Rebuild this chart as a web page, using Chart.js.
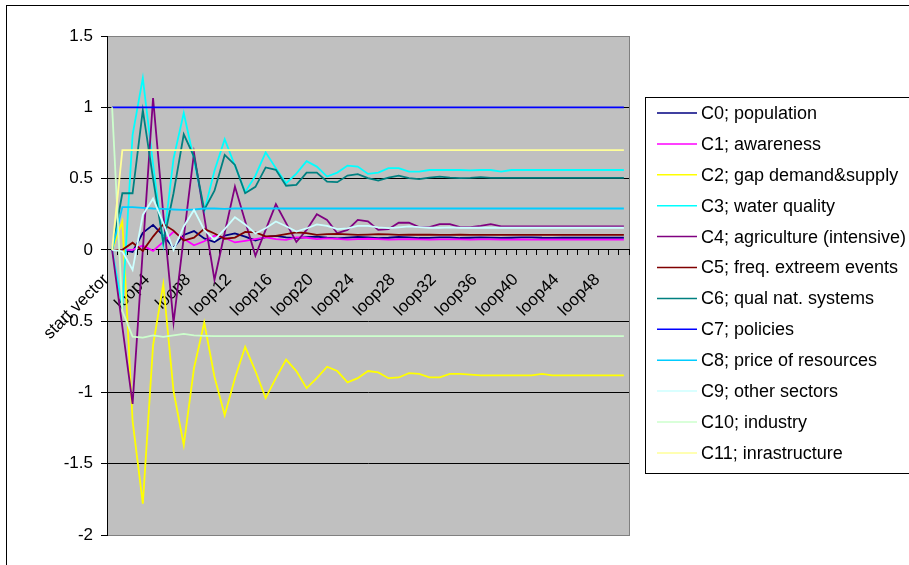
<!DOCTYPE html>
<html>
<head>
<meta charset="utf-8">
<script src="https://cdn.jsdelivr.net/npm/chart.js@4.4.0/dist/chart.umd.min.js"></script>
<style>
    html, body { margin: 0; padding: 0; background: #fff; }
    #wrap { width: 909px; height: 565px; }
</style>
</head>
<body>
<div id="wrap"><canvas id="fcmChart" width="909" height="565"></canvas></div>
<script>
// Categories (x axis)
const categories = ['start vector',
    'loop1', 'loop2', 'loop3', 'loop4', 'loop5', 'loop6', 'loop7', 'loop8', 'loop9', 'loop10',
    'loop11', 'loop12', 'loop13', 'loop14', 'loop15', 'loop16', 'loop17', 'loop18', 'loop19', 'loop20',
    'loop21', 'loop22', 'loop23', 'loop24', 'loop25', 'loop26', 'loop27', 'loop28', 'loop29', 'loop30',
    'loop31', 'loop32', 'loop33', 'loop34', 'loop35', 'loop36', 'loop37', 'loop38', 'loop39', 'loop40',
    'loop41', 'loop42', 'loop43', 'loop44', 'loop45', 'loop46', 'loop47', 'loop48', 'loop49', 'loop50'];

// Y axis ticks
const yTicks = [1.5, 1, 0.5, 0, -0.5, -1, -1.5, -2];

// Series names and colours
const seriesNames = ['C0; population', 'C1; awareness', 'C2; gap demand&supply', 'C3; water quality',
    'C4; agriculture (intensive)', 'C5; freq. extreem events', 'C6; qual nat. systems', 'C7; policies',
    'C8; price of resources', 'C9; other sectors', 'C10; industry', 'C11; inrastructure'];
const seriesColors = ['#000080', '#FF00FF', '#FFFF00', '#00FFFF', '#800080', '#800000',
    '#008080', '#0000FF', '#00CCFF', '#CCFFFF', '#CCFFCC', '#FFFF99'];

// Series values
const c0 = [0, 0, -0.015, 0.12, 0.175, 0.1, 0.015, 0.105, 0.132, 0.08,
    0.055, 0.1, 0.115, 0.093, 0.066, 0.089, 0.098, 0.087, 0.082, 0.089,
    0.093, 0.085, 0.08, 0.086, 0.09, 0.087, 0.082, 0.085, 0.09, 0.088,
    0.083, 0.084, 0.088, 0.087, 0.083, 0.085, 0.088, 0.086, 0.084, 0.085,
    0.087, 0.088, 0.085, 0.084, 0.085, 0.086, 0.085, 0.085, 0.085, 0.085, 0.085];
const c1 = [0, 0, 0, 0.03, -0.007, 0.056, 0.128, 0.078, 0.032, 0.06,
    0.1, 0.085, 0.052, 0.063, 0.075, 0.087, 0.075, 0.07, 0.087, 0.085,
    0.075, 0.08, 0.077, 0.072, 0.075, 0.078, 0.075, 0.072, 0.073, 0.075,
    0.074, 0.072, 0.073, 0.074, 0.073, 0.072, 0.073, 0.073, 0.072, 0.072,
    0.073, 0.072, 0.072, 0.072, 0.072, 0.072, 0.072, 0.072, 0.072, 0.072, 0.072];
const c2 = [0, 0.2, -1.2, -1.78, -0.67, -0.24, -0.99, -1.37, -0.83, -0.51,
    -0.89, -1.16, -0.9, -0.68, -0.85, -1.04, -0.9, -0.77, -0.85, -0.97,
    -0.9, -0.82, -0.85, -0.93, -0.9, -0.85, -0.86, -0.9, -0.895, -0.865,
    -0.87, -0.895, -0.895, -0.87, -0.87, -0.875, -0.88, -0.88, -0.88, -0.88,
    -0.88, -0.88, -0.87, -0.88, -0.88, -0.88, -0.88, -0.88, -0.88, -0.88, -0.88];
const c3 = [0, -0.4, 0.806, 1.204, 0.6, 0.04, 0.64, 0.96, 0.63, 0.27,
    0.555, 0.776, 0.59, 0.405, 0.52, 0.684, 0.573, 0.467, 0.535, 0.622,
    0.584, 0.514, 0.542, 0.591, 0.584, 0.533, 0.542, 0.573, 0.573, 0.549,
    0.549, 0.56, 0.56, 0.56, 0.56, 0.558, 0.56, 0.56, 0.549, 0.56,
    0.56, 0.56, 0.56, 0.56, 0.56, 0.56, 0.56, 0.56, 0.56, 0.56, 0.56];
const c4 = [0, -0.54, -1.08, 0, 1.064, 0.25, -0.51, 0.09, 0.68, 0.235,
    -0.21, 0.12, 0.444, 0.2, -0.042, 0.14, 0.32, 0.187, 0.055, 0.14,
    0.25, 0.21, 0.117, 0.14, 0.21, 0.2, 0.14, 0.145, 0.19, 0.19,
    0.159, 0.159, 0.18, 0.18, 0.159, 0.159, 0.168, 0.18, 0.165, 0.165,
    0.165, 0.165, 0.165, 0.165, 0.165, 0.165, 0.165, 0.165, 0.165, 0.165, 0.165];
const c5 = [0, 0, 0.05, -0.007, 0.093, 0.18, 0.135, 0.065, 0.085, 0.147,
    0.115, 0.078, 0.086, 0.126, 0.123, 0.095, 0.098, 0.11, 0.122, 0.117,
    0.105, 0.11, 0.112, 0.108, 0.105, 0.107, 0.11, 0.108, 0.105, 0.106,
    0.107, 0.106, 0.105, 0.105, 0.106, 0.105, 0.105, 0.105, 0.105, 0.105,
    0.105, 0.105, 0.105, 0.105, 0.105, 0.105, 0.105, 0.105, 0.105, 0.105, 0.105];
const c6 = [0, 0.397, 0.397, 0.98, 0.5, 0.05, 0.397, 0.81, 0.654, 0.28,
    0.415, 0.666, 0.596, 0.397, 0.442, 0.578, 0.561, 0.45, 0.456, 0.542,
    0.542, 0.479, 0.475, 0.521, 0.531, 0.503, 0.486, 0.507, 0.521, 0.503,
    0.496, 0.507, 0.514, 0.507, 0.503, 0.505, 0.51, 0.505, 0.505, 0.505,
    0.505, 0.505, 0.505, 0.505, 0.505, 0.505, 0.505, 0.505, 0.505, 0.505, 0.505];
const c7 = [1, 1, 1, 1, 1, 1, 1, 1, 1, 1,
    1, 1, 1, 1, 1, 1, 1, 1, 1, 1,
    1, 1, 1, 1, 1, 1, 1, 1, 1, 1,
    1, 1, 1, 1, 1, 1, 1, 1, 1, 1,
    1, 1, 1, 1, 1, 1, 1, 1, 1, 1, 1];
const c8 = [0, 0.3, 0.3, 0.295, 0.29, 0.287, 0.283, 0.28, 0.283, 0.29,
    0.29, 0.287, 0.29, 0.29, 0.29, 0.29, 0.29, 0.29, 0.29, 0.29,
    0.29, 0.29, 0.29, 0.29, 0.29, 0.29, 0.29, 0.29, 0.29, 0.29,
    0.29, 0.29, 0.29, 0.29, 0.29, 0.29, 0.29, 0.29, 0.29, 0.29,
    0.29, 0.29, 0.29, 0.29, 0.29, 0.29, 0.29, 0.29, 0.29, 0.29, 0.29];
const c9 = [0, -0.01, -0.14, 0.245, 0.36, 0.187, 0, 0.164, 0.28, 0.14,
    0.07, 0.145, 0.229, 0.178, 0.115, 0.152, 0.199, 0.166, 0.128, 0.15,
    0.178, 0.168, 0.145, 0.15, 0.168, 0.168, 0.158, 0.152, 0.158, 0.165,
    0.16, 0.155, 0.155, 0.157, 0.155, 0.155, 0.155, 0.155, 0.155, 0.155,
    0.155, 0.155, 0.155, 0.155, 0.155, 0.155, 0.155, 0.155, 0.155, 0.155, 0.155];
const c10 = [1, -0.43, -0.608, -0.615, -0.6, -0.61, -0.6, -0.59, -0.6, -0.603,
    -0.605, -0.605, -0.605, -0.605, -0.605, -0.605, -0.605, -0.605, -0.605, -0.605,
    -0.605, -0.605, -0.605, -0.605, -0.605, -0.605, -0.605, -0.605, -0.605, -0.605,
    -0.605, -0.605, -0.605, -0.605, -0.605, -0.605, -0.605, -0.605, -0.605, -0.605,
    -0.605, -0.605, -0.605, -0.605, -0.605, -0.605, -0.605, -0.605, -0.605, -0.605, -0.605];
const c11 = [0, 0.7, 0.7, 0.7, 0.7, 0.7, 0.7, 0.7, 0.7, 0.7,
    0.7, 0.7, 0.7, 0.7, 0.7, 0.7, 0.7, 0.7, 0.7, 0.7,
    0.7, 0.7, 0.7, 0.7, 0.7, 0.7, 0.7, 0.7, 0.7, 0.7,
    0.7, 0.7, 0.7, 0.7, 0.7, 0.7, 0.7, 0.7, 0.7, 0.7,
    0.7, 0.7, 0.7, 0.7, 0.7, 0.7, 0.7, 0.7, 0.7, 0.7, 0.7];

const seriesValues = [c0, c1, c2, c3, c4, c5, c6, c7, c8, c9, c10, c11];

const FONT = "'Liberation Sans', Arial, sans-serif";

// Grey plot area, outer frame
const plotFrame = {
    id: 'plotFrame',
    beforeDraw(chart) {
        const { ctx, chartArea: a } = chart;
        ctx.save();
        ctx.fillStyle = '#C0C0C0';
        ctx.fillRect(a.left, a.top, a.right - a.left, a.bottom - a.top);
        ctx.strokeStyle = '#808080';
        ctx.lineWidth = 1;
        ctx.strokeRect(a.left + 0.5, a.top + 0.5, a.right - a.left, a.bottom - a.top);
        // outer chart border
        ctx.strokeStyle = '#000';
        ctx.strokeRect(6.5, 5.5, 1200, 1200);
        ctx.restore();
    }
};

// Legend box drawn like the spreadsheet legend
const boxLegend = {
    id: 'boxLegend',
    afterDraw(chart) {
        const ctx = chart.ctx;
        ctx.save();
        ctx.strokeStyle = '#000';
        ctx.lineWidth = 1;
        ctx.strokeRect(645.5, 97.5, 400, 376);
        ctx.font = '18px ' + FONT;
        ctx.textBaseline = 'middle';
        ctx.textAlign = 'left';
        chart.data.datasets.forEach((ds, i) => {
            const y = 113 + i * 30.9;
            ctx.strokeStyle = ds.borderColor;
            ctx.lineWidth = 1.5;
            ctx.beginPath();
            ctx.moveTo(657, y);
            ctx.lineTo(697, y);
            ctx.stroke();
            ctx.fillStyle = '#000';
            ctx.fillText(ds.label, 701, y + 1);
        });
        ctx.restore();
    }
};

const datasets = seriesValues.map((vals, i) => ({
    label: seriesNames[i],
    data: vals,
    borderColor: seriesColors[i],
    backgroundColor: seriesColors[i],
    borderWidth: 1.8,
    pointRadius: 0,
    tension: 0,
    order: seriesValues.length - i
}));

new Chart(document.getElementById('fcmChart'), {
    type: 'line',
    data: { labels: categories, datasets: datasets },
    options: {
        responsive: false,
        devicePixelRatio: 1,
        animation: false,
        layout: { padding: { left: 0, top: 36, right: 280, bottom: 30 } },
        plugins: {
            legend: { display: false },
            tooltip: { enabled: false }
        },
        scales: {
            x: {
                type: 'category',
                position: { y: 0 },
                offset: true,
                grid: {
                    offset: true,
                    drawOnChartArea: false,
                    drawTicks: true,
                    tickLength: 5,
                    tickColor: '#000'
                },
                border: { display: true, color: '#000', width: 1 },
                ticks: {
                    autoSkip: false,
                    maxRotation: 45,
                    minRotation: 45,
                    padding: 15,
                    labelOffset: -6,
                    color: '#000',
                    font: { family: FONT, size: 17 },
                    callback: function (value, index) {
                        return index % 4 === 0 ? this.getLabelForValue(value) : '';
                    }
                },
                afterFit: (scale) => { scale.height = 0; }
            },
            y: {
                min: -2,
                max: 1.5,
                afterBuildTicks: (scale) => { scale.ticks = yTicks.map(v => ({ value: v })); },
                grid: {
                    color: (c) => (c.tick && (c.tick.value === 1.5 || c.tick.value === -2)) ? '#808080' : '#000',
                    lineWidth: 1,
                    drawTicks: true,
                    tickLength: 6,
                    tickColor: '#000'
                },
                border: { display: true, color: '#000', width: 1 },
                ticks: {
                    padding: 8,
                    color: '#000',
                    font: { family: FONT, size: 17 },
                    callback: (value) => String(value)
                },
                afterFit: (scale) => { scale.width = 107; }
            }
        }
    },
    plugins: [plotFrame, boxLegend]
});
</script>
</body>
</html>
